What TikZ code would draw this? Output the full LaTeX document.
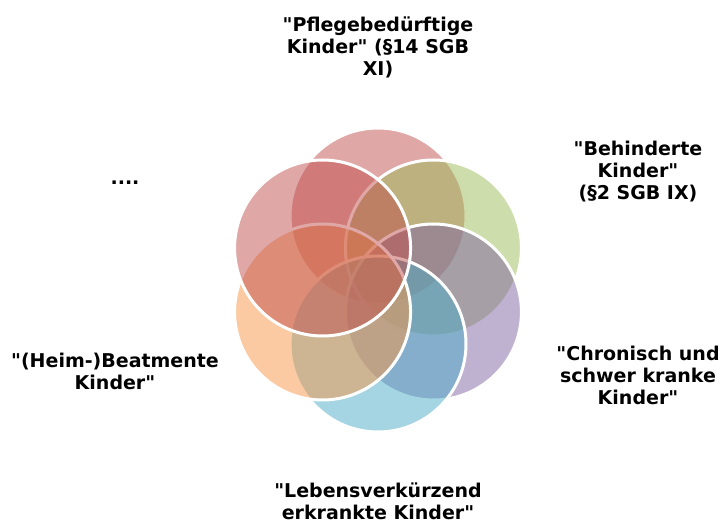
\documentclass[tikz,border=0pt]{standalone}
\usepackage{fontspec}
\setmainfont{DejaVu Sans}
\definecolor{accred}{HTML}{C0504D}
\definecolor{accgreen}{HTML}{9BBB59}
\definecolor{accpurple}{HTML}{8064A2}
\definecolor{accaqua}{HTML}{4BACC6}
\definecolor{accorange}{HTML}{F79646}
% straight double quote, taken as glyph so no mapping turns it round
\newcommand{\dq}{\XeTeXglyph\XeTeXglyphindex "quotedbl"\relax}

\begin{document}
\begin{tikzpicture}[x=1pt,y=1pt,
	venn/.style={draw=white,line width=3pt,fill opacity=0.5},
	lbl/.style={align=center,font=\fontsize{19}{22}\selectfont\bfseries,text=black,inner sep=0pt}]
	% page size as in the original
	\useasboundingbox (-378,-246) rectangle (344,280);
	% the circles - drawn one over the other, last one on top
	\foreach \ang/\col in {90/accred,30/accgreen,-30/accpurple,-90/accaqua,-150/accorange,150/accred}
		\path[venn,fill=\col] (\ang:64) circle (88);
	% labels
	\node[lbl] (pflege) at (0,233) {\dq Pflegebedürftige\\Kinder\dq\ (§14 SGB\\XI)};
	\node[lbl] (behind) at (260,108) {\dq Behinderte\\Kinder\dq\\(§2 SGB IX)};
	\node[lbl] (chron) at (260,-95) {\dq Chronisch und\\schwer kranke\\Kinder\dq};
	\node[lbl] (leben) at (0,-221) {\dq Lebensverkürzend\\erkrankte Kinder\dq};
	\node[lbl] (beatm) at (-263,-91) {\dq(Heim-)Beatmente\\Kinder\dq};
	\node[lbl] (weitere) at (-253,97) {....};
\end{tikzpicture}
\end{document}
